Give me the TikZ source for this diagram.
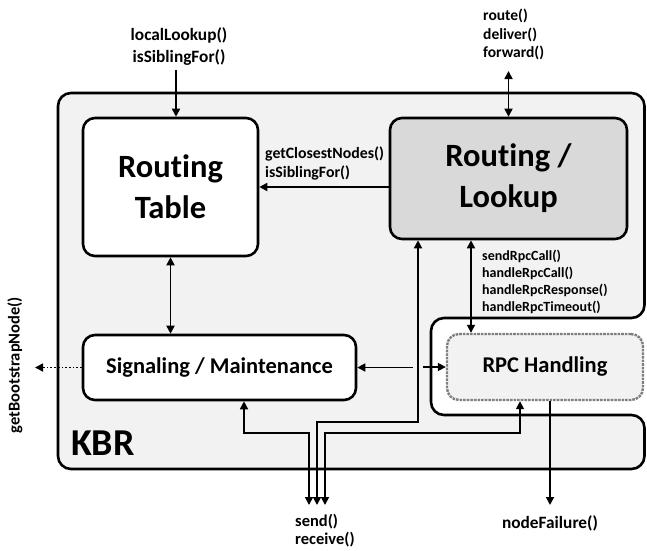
\documentclass[tikz,border=0pt]{standalone}
\usepackage{fontspec}
\setmainfont{Carlito}[Ligatures=NoCommon]
\usetikzlibrary{arrows.meta,calc}
\definecolor{kbrfill}{HTML}{F2F2F2}
\definecolor{rlfill}{HTML}{D9D9D9}
\definecolor{dotgray}{HTML}{7F7F7F}

\begin{document}
\begin{tikzpicture}[x=1pt,y=-1pt,
  >={Triangle[length=8pt,width=8pt]},
  box/.style={draw, line width=2.6pt, rounded corners=12pt, inner sep=0pt,
    align=center, font=\bfseries},
  bigtext/.style={font={\bfseries\fontsize{32.5}{41}\selectfont}},
  midtext/.style={font={\bfseries\fontsize{22.5}{26}\selectfont}},
  link/.style={line width=1.7pt},
  lbl/.style={inner sep=0pt, align=left, font={\bfseries\fontsize{15.5}{18.5}\selectfont}},
  lblsmall/.style={inner sep=0pt, align=left, font={\bfseries\fontsize{14}{16.8}\selectfont}},
]
\useasboundingbox (0,0) rectangle (647,550);

% KBR component outline with the notch around RPC handling
\draw[line width=2.6pt, fill=kbrfill, rounded corners=13pt]
  (58,93) -- (644.5,93) -- (644.5,318) -- (431,318) -- (431,415)
  -- (644.5,415) -- (644.5,469) -- (58,469) -- cycle;
\node[anchor=base west, inner sep=0pt, font={\bfseries\fontsize{38}{44}\selectfont}]
  (kbr) at (71,455) {KBR};

% main blocks
\node[box, bigtext, fill=white, minimum width=175pt, minimum height=138pt]
  (rt) at (170.5,187) {Routing\\Table};
\node[box, bigtext, fill=rlfill, minimum width=237pt, minimum height=121pt]
  (rl) at (508.5,178.5) {Routing /\\Lookup};
\node[box, midtext, fill=white, minimum width=273pt, minimum height=65pt]
  (sig) at (219.5,367.5) {Signaling / Maintenance};
\node[box, midtext, draw=dotgray, densely dotted, line width=2.4pt, fill=kbrfill,
  minimum width=196pt, minimum height=66pt]
  (rpc) at (545,367) {RPC Handling};

% helper coordinates
\coordinate (ll) at (176,70);
\coordinate (up) at (508.5,71);
\coordinate (bs) at (35,367.5);
\coordinate (gapL) at (413,367.5);
\coordinate (gapR) at (423,367);
\coordinate (rpcx) at (471,0);
\coordinate (s1) at (309,505);
\coordinate (s2) at (317,505);
\coordinate (s3) at (325,505);
\coordinate (j1) at (244,433);
\coordinate (j2) at (418,422);
\coordinate (j3) at (520,433);
\coordinate (nf) at (550,505);

% connectors
\draw[link,->] (ll) -- (ll |- rt.north);
\draw[link,<->] (up) -- (rl.north);
\draw[link,->] (rt.east -| rl.west) -- (rt.east);
\draw[link,<->] (rt.south) -- (rt.south |- sig.north);
\draw[link,->,dotted] (sig.west) -- (bs);
\draw[link,->] (gapL) -- (sig.east);
\draw[link,->] (gapR) -- (rpc.west);
\draw[link,<->] (rl.south -| rpcx) -- (rpc.north -| rpcx);
\draw[link,<->] (s1) |- (j1) -- (j1 |- sig.south);
\draw[link,<->] (s2) |- (j2) -- (j2 |- rl.south);
\draw[link,<->] (s3) |- (j3) -- (j3 |- rpc.south);
\draw[link,->] (rpc.south -| nf) -- (nf);

% interface labels
\node[lbl, anchor=north, align=center, font={\bfseries\fontsize{17.3}{22}\selectfont}]
  (llt) at (179,27) {localLookup()\\isSiblingFor()};
\node[lbl, anchor=north west] (upt) at (483,9) {route()\\deliver()\\forward()};
\node[lbl, anchor=north west, font={\bfseries\fontsize{15.8}{18.5}\selectfont}]
  (gct) at (265,147) {getClosestNodes()\\isSiblingFor()};
\node[lblsmall, anchor=north west] (rpct) at (482,250) {sendRpcCall()\\handleRpcCall()\\handleRpcResponse()\\handleRpcTimeout()};
\node[lbl, anchor=north west, font={\bfseries\fontsize{16.5}{18.5}\selectfont}]
  (srt) at (295,514) {send()\\receive()};
\node[lbl, anchor=north, font={\bfseries\fontsize{17.3}{20}\selectfont}]
  (nft) at (550,515) {nodeFailure()};
\node[lbl, rotate=90, font={\bfseries\fontsize{16.5}{19}\selectfont}]
  (bst) at (15,365) {getBootstrapNode()};
\end{tikzpicture}
\end{document}
